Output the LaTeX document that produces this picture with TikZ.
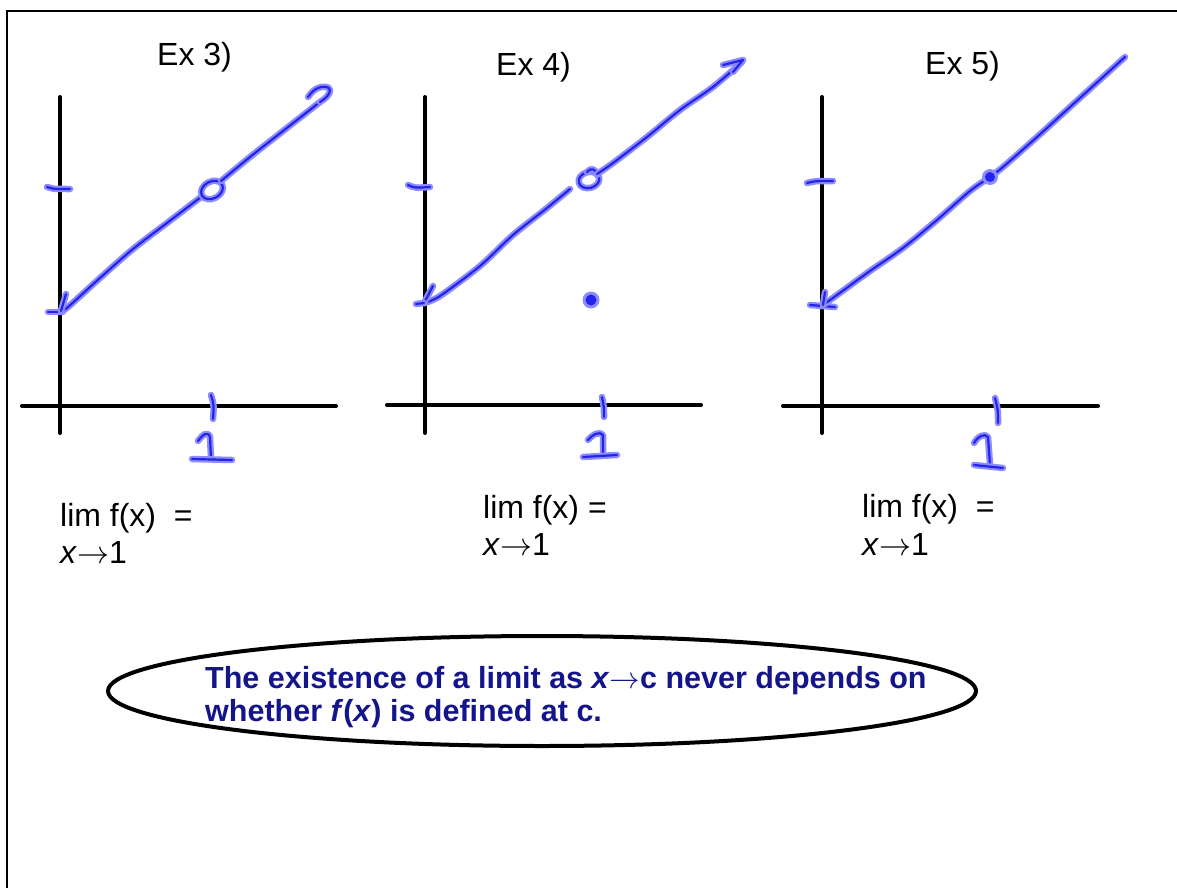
\RequirePackage{fix-cm}
\documentclass[tikz,border=0pt]{standalone}
\usepackage{fontspec}
\setmainfont{Liberation Sans}
\definecolor{inkcore}{RGB}{35,35,235}
\definecolor{inkhalo}{RGB}{140,140,255}
\definecolor{navy}{RGB}{20,20,140}
\newcommand{\toarrow}{\ensuremath{\rightarrow}}
\begin{document}
\begin{tikzpicture}[x=1pt,y=-1pt,
  axis/.style={line width=4pt, line cap=round},
  ink/.style={draw=inkcore, line width=2.2pt, line cap=round, line join=round,
    preaction={draw=inkhalo, line width=6.5pt, line cap=round, line join=round}},
  lab/.style={anchor=base west, inner sep=0pt, font=\fontsize{32}{38}\selectfont},
  note/.style={anchor=base west, inner sep=0pt, text=navy, font=\fontsize{30.5}{36}\selectfont\bfseries},
  frame/.style={line width=2pt}]
\useasboundingbox (0,0) rectangle (1177,888);
\fill[white] (0,0) rectangle (1177,888);
\draw[frame] (7,888) -- (7,11) -- (1177,11);

% ---------- Graph 1 (Ex 3)
\draw[axis] (60,97) -- (60,433);
\draw[axis] (22,406) -- (336,406);
\draw[ink] (47,187) .. controls (52,189) .. (70,189);
\draw[ink] (48,312) -- (63,312);
\draw[ink] (211,395) .. controls (214,405) .. (213,419);
\draw[ink] (198,441) .. controls (203,434) and (208,431) .. (210,437) -- (211,458);
\draw[ink] (192,459) -- (232,460);
\draw[ink] plot[smooth] coordinates {(61,311) (68,307) (100,278) (133,249) (167,223) (201,197)};
\draw[ink] (66,294) -- (61,311);
\draw[ink, rotate around={28:(212,190)}] (212,190) ellipse [x radius=11.5, y radius=8.5];
\draw[ink] plot[smooth] coordinates {(221,181) (250,157) (283,131) (320,102)};
\draw[ink] (320,102) .. controls (332,95) and (334,85) .. (321,87) .. controls (315,88) and (311,93) .. (308,97);

% ---------- Graph 2 (Ex 4)
\draw[axis] (425,97) -- (425,433);
\draw[axis] (387,405) -- (701,405);
\draw[ink] (408,185) .. controls (415,188) .. (430,187);
\draw[ink] (602,397) .. controls (604,407) .. (604,417);
\draw[ink] (588,440) .. controls (593,434) and (600,431) .. (603,435) -- (603,455);
\draw[ink] (583,457) -- (617,455);
\draw[ink] plot[smooth] coordinates {(424,303) (440,296) (480,266) (513,235) (547,208) (570,189)};
\draw[ink] (433,286) -- (424,303);
\draw[ink] (416,304) -- (424,303);
\draw[ink, rotate around={15:(589,180)}] (589,180) ellipse [x radius=10.5, y radius=8];
\draw[ink] (587,172) .. controls (591,167) and (596,169) .. (597,175);
\draw[ink] plot[smooth] coordinates {(597,174) (613,163) (647,137) (680,110) (713,87) (742,62)};
\draw[ink] (723,65) -- (743,60) -- (733,72);
\fill[inkhalo] (591,300) circle (8.5);
\fill[inkcore] (591,300) circle (5.5);

% ---------- Graph 3 (Ex 5)
\draw[axis] (822,97) -- (822,433);
\draw[axis] (783,406) -- (1098,406);
\draw[ink] (807,183) .. controls (815,181) .. (833,181);
\draw[ink] (810,305) -- (835,307);
\draw[ink] (995,398) .. controls (998,410) .. (998,423);
\draw[ink] (974,443) .. controls (978,436) and (985,433) .. (988,437) -- (990,465);
\draw[ink] (974,465) -- (1003,468);
\draw[ink] plot[smooth] coordinates {(823,305) (837,295) (870,271) (903,248) (937,220) (970,191) (990,177) (1003,167) (1037,137) (1070,107) (1103,77) (1125,57)};
\draw[ink] (825,292) -- (823,305);
\fill[inkhalo] (990,177) circle (8);
\fill[inkcore] (990,177) circle (5);

% ---------- Texts
\node[lab] (ex3) at (157,66) {Ex 3)};
\node[lab] (ex4) at (496,76) {Ex 4)};
\node[lab] (ex5) at (925,75) {Ex 5)};
\node[lab] (lim3) at (60,526) {lim f(x)\ \ =};
\node[lab] (to3) at (60,563) {\textit{x}\toarrow1};
\node[lab] (lim4) at (483,518) {lim f(x) =};
\node[lab] (to4) at (483,555) {\textit{x}\toarrow1};
\node[lab] (lim5) at (862,517) {lim f(x)\ \ =};
\node[lab] (to5) at (862,555) {\textit{x}\toarrow1};

% ---------- Ellipse note
\draw[line width=4pt] (542,691) ellipse [x radius=434, y radius=55];
\node[note] (note1) at (205,688) {The existence of a limit as \textit{x}\toarrow c never depends on};
\node[note] (note2) at (205,721) {whether \textit{f}(\textit{x}) is defined at c.};
\end{tikzpicture}
\end{document}
